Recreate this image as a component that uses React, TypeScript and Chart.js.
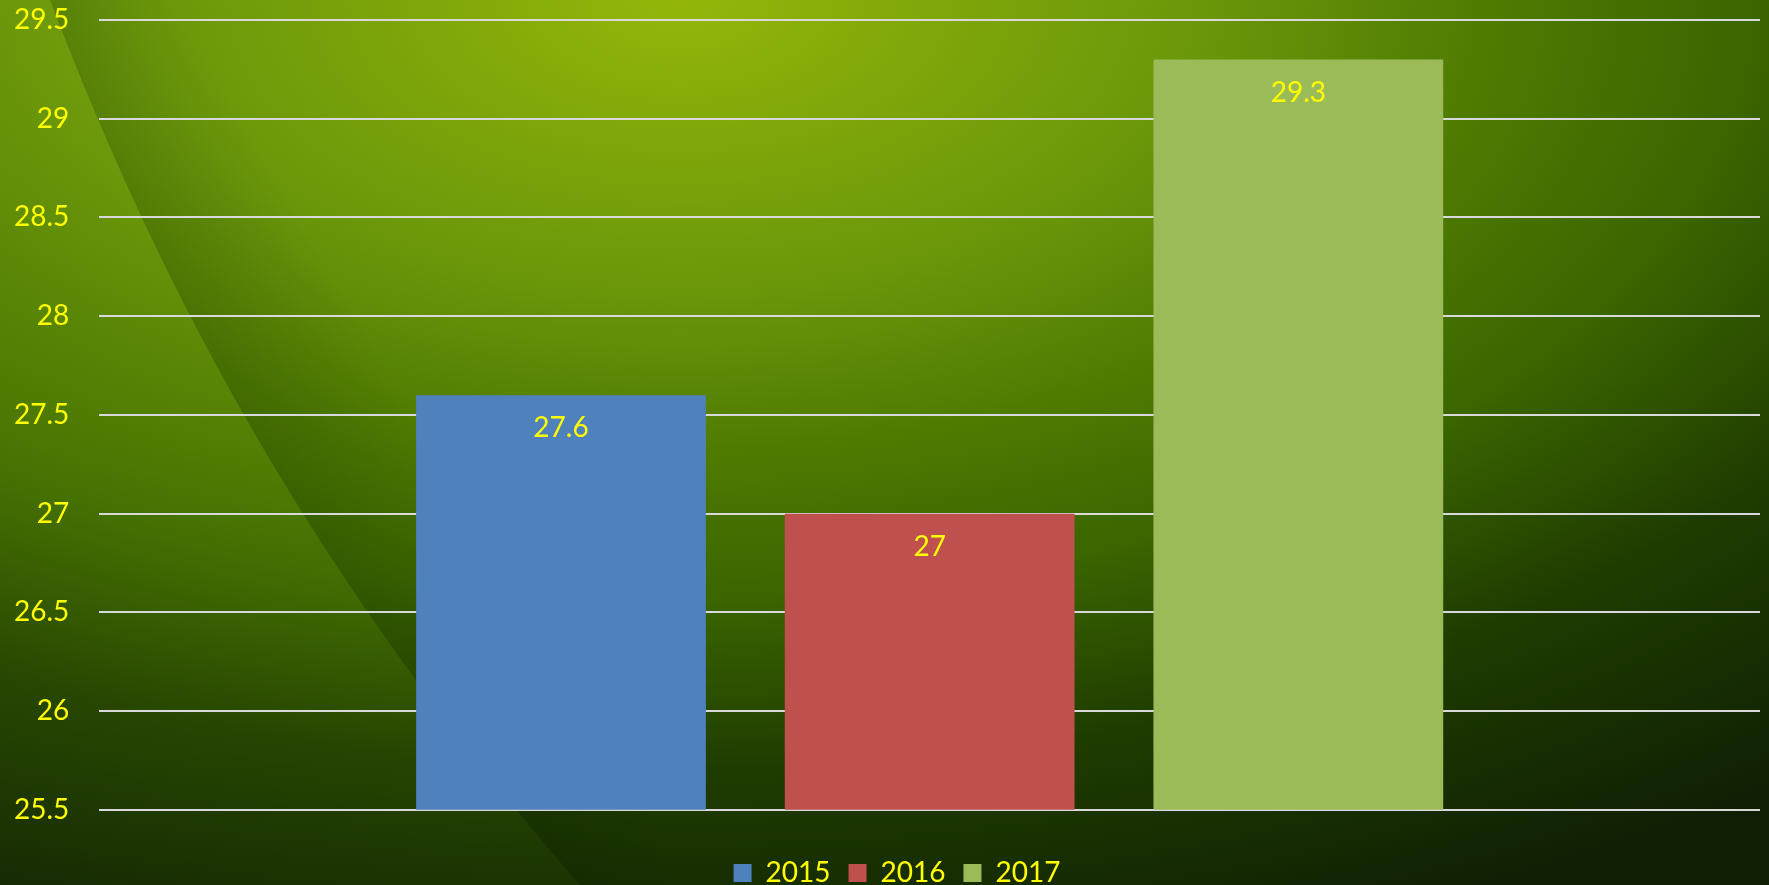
import React, { useEffect, useRef } from "react";
import { Chart, registerables } from "chart.js";

Chart.register(...registerables);

const categories = [""];
const seriesNames = ["2015", "2016", "2017"];
const seriesValues = [27.6, 27.0, 29.3];
const seriesColors = ["#4f81bd", "#c0504d", "#9bbb59"];
const yMin = 25.5;
const yMax = 29.5;
const yStep = 0.5;

const FONT = "Lato, 'Open Sans', sans-serif";

const swathEdge = (ctx: any, height: number) => {
  ctx.bezierCurveTo(164, 300, 319, 585, 580, height);
};

const backgroundPlugin = {
  id: "bgPlugin",
  beforeDraw(chart: any) {
    const { ctx, width, height } = chart;
    ctx.save();
    ctx.save();
    const cx = 680, cy = 0, rx = 1800, ry = 1000;
    ctx.translate(cx, cy);
    ctx.scale(1, ry / rx);
    const g = ctx.createRadialGradient(0, 0, 0, 0, 0, rx);
    g.addColorStop(0, "#94b70a");
    g.addColorStop(0.3, "#69950a");
    g.addColorStop(0.45, "#4f7b02");
    g.addColorStop(0.6, "#3a6500");
    g.addColorStop(0.77, "#1f3c00");
    g.addColorStop(1, "#0f1f04");
    ctx.fillStyle = g;
    ctx.fillRect(-cx, 0, width, (height * rx) / ry + 10);
    ctx.restore();
    // soft shadow right of the swath edge
    const sg = ctx.createLinearGradient(260, 442, 260 + 0.86 * 150, 442 - 0.51 * 150);
    sg.addColorStop(0, "rgba(0,20,0,0.13)");
    sg.addColorStop(1, "rgba(0,20,0,0)");
    ctx.fillStyle = sg;
    ctx.beginPath();
    ctx.moveTo(50, 0);
    swathEdge(ctx, height);
    ctx.lineTo(900, height);
    ctx.lineTo(400, 0);
    ctx.closePath();
    ctx.fill();
    // lighter swath on the left
    const lg = ctx.createLinearGradient(0, 0, 0, height);
    lg.addColorStop(0, "rgba(170,210,30,0.20)");
    lg.addColorStop(0.5, "rgba(150,200,20,0.14)");
    lg.addColorStop(1, "rgba(120,170,10,0.05)");
    ctx.fillStyle = lg;
    ctx.beginPath();
    ctx.moveTo(0, 0);
    ctx.lineTo(50, 0);
    swathEdge(ctx, height);
    ctx.lineTo(0, height);
    ctx.closePath();
    ctx.fill();
    ctx.restore();
  },
};

const legendShiftPlugin = {
  id: "legendShift",
  afterLayout(chart: any) {
    if (chart.legend) {
      chart.legend.left += 25;
      chart.legend.right += 25;
    }
  },
};

const valueLabelPlugin = {
  id: "valueLabels",
  afterDatasetsDraw(chart: any) {
    const { ctx } = chart;
    ctx.save();
    ctx.font = `28px ${FONT}`;
    ctx.fillStyle = "#ffff00";
    ctx.textAlign = "center";
    ctx.textBaseline = "middle";
    chart.data.datasets.forEach((ds: any, i: number) => {
      const meta = chart.getDatasetMeta(i);
      meta.data.forEach((bar: any, j: number) => {
        const v = ds.data[j];
        ctx.fillText(String(v), bar.x, bar.y + 33);
      });
    });
    ctx.restore();
  },
};

export default function App() {
  const ref = useRef<HTMLCanvasElement | null>(null);
  useEffect(() => {
    document.body.style.margin = "0";
    const chart = new Chart(ref.current as HTMLCanvasElement, {
      type: "bar",
      data: {
        labels: categories,
        datasets: seriesNames.map((n, i) => ({
          label: n,
          data: [seriesValues[i]],
          backgroundColor: seriesColors[i],
          borderWidth: 0,
          categoryPercentage: 0.666,
          barPercentage: 0.786,
        })),
      },
      options: {
        animation: false,
        responsive: true,
        maintainAspectRatio: false,
        layout: { padding: { left: -16, right: 9, top: 20, bottom: -12 } },
        plugins: {
          legend: {
            position: "bottom",
            labels: {
              color: "#ffff00",
              font: { family: FONT, size: 28, lineHeight: 1 },
              boxWidth: 18,
              boxHeight: 18,
              padding: 18,
            },
          },
          tooltip: { enabled: false },
          title: { display: false },
        },
        scales: {
          x: {
            display: true,
            grid: { display: false, drawTicks: false },
            border: { display: false },
            ticks: { display: false },
            title: { display: true, text: " ", font: { size: 1 }, padding: { top: 30, bottom: 0 } },
          },
          y: {
            min: yMin,
            max: yMax,
            grid: { color: "#d9d9d9", lineWidth: 2, drawTicks: false },
            border: { display: false },
            afterFit: (scale: any) => {
              scale.paddingTop = 0;
            },
            ticks: {
              stepSize: yStep,
              color: "#ffff00",
              font: { family: FONT, size: 28 },
              padding: 30,
              callback: (v: any) => String(Number(Number(v).toFixed(1))),
            },
          },
        },
      },
      plugins: [backgroundPlugin, legendShiftPlugin, valueLabelPlugin],
    });
    return () => chart.destroy();
  }, []);
  return (
    <div style={{ position: "fixed", left: 0, top: 0, width: "100vw", height: "100vh" }}>
      <canvas ref={ref} />
    </div>
  );
}
